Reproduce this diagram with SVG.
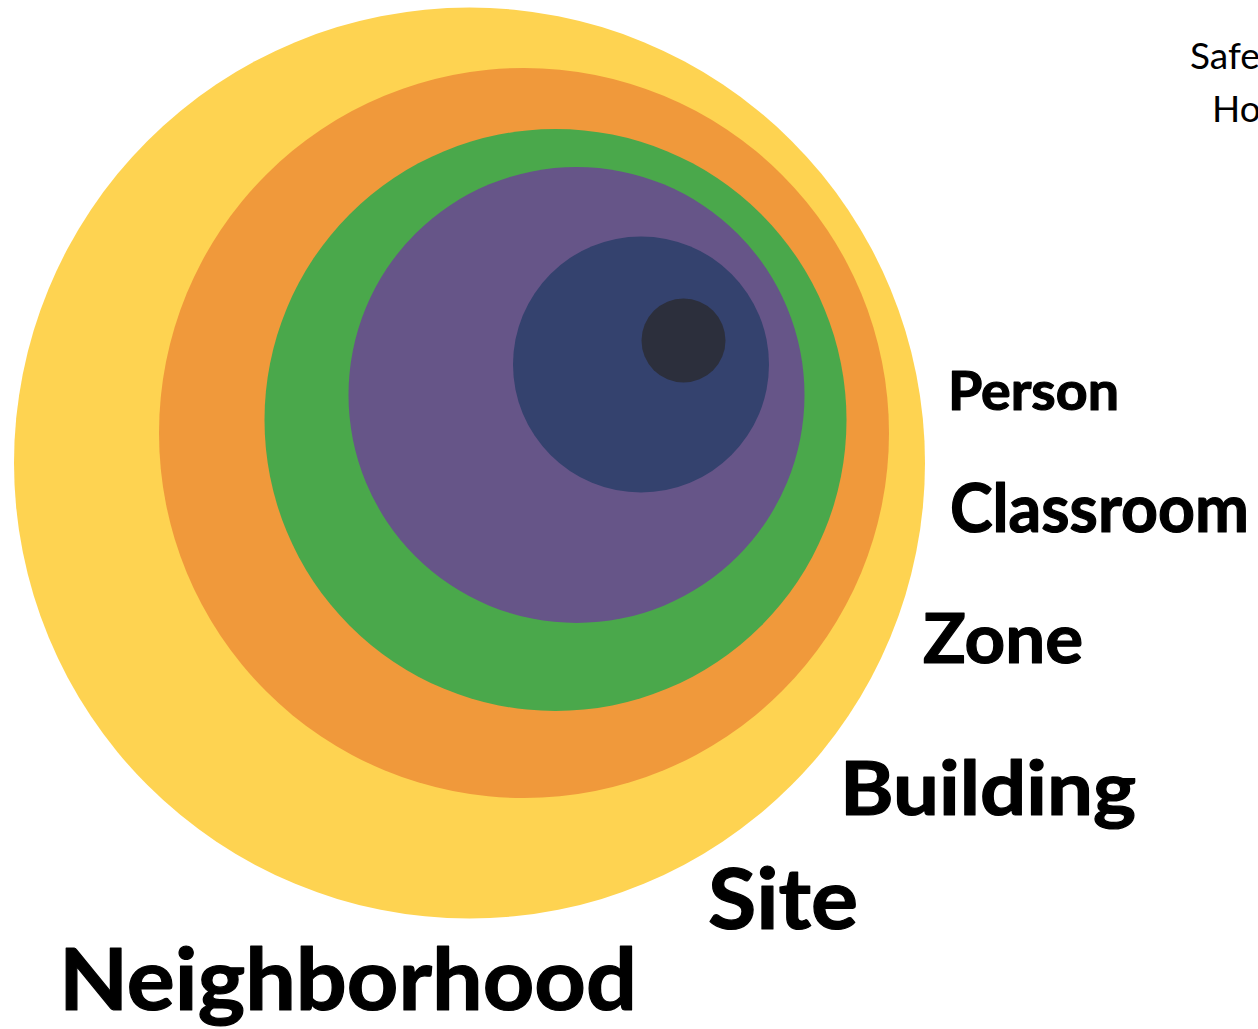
<svg xmlns="http://www.w3.org/2000/svg" width="1258" height="1029" viewBox="0 0 1258 1029">
<style>
.lbl{font-family:Lato,"Open Sans","Liberation Sans",sans-serif;font-weight:700;fill:#000;stroke:#000;stroke-width:1.2px;stroke-linejoin:round}
.note{font-family:Lato,"Open Sans","Liberation Sans",sans-serif;font-weight:400;fill:#000;font-size:37px}
</style>
<rect width="1258" height="1029" fill="#ffffff"/>
<g id="neighborhood-ring"><circle cx="469.5" cy="463" r="455.5" fill="#FED351"/></g>
<g id="site-ring"><circle cx="524" cy="433" r="365" fill="#F0993B"/></g>
<g id="building-ring"><circle cx="555.5" cy="420" r="291" fill="#4AA84B"/></g>
<g id="zone-ring"><circle cx="576.5" cy="395" r="228" fill="#665588"/></g>
<g id="classroom-ring"><circle cx="641" cy="364.5" r="128" fill="#34426E"/></g>
<g id="person-dot"><circle cx="683.5" cy="340.5" r="42" fill="#2C2F3C"/></g>
<g id="labels">
<text class="lbl" x="948" y="410" font-size="53" textLength="171" lengthAdjust="spacingAndGlyphs">Person</text>
<text class="lbl" x="950" y="532" font-size="66" textLength="299" lengthAdjust="spacingAndGlyphs">Classroom</text>
<text class="lbl" x="923" y="663" font-size="68" textLength="160" lengthAdjust="spacingAndGlyphs">Zone</text>
<text class="lbl" x="840" y="815" font-size="74" textLength="296" lengthAdjust="spacingAndGlyphs">Building</text>
<text class="lbl" x="708" y="929" font-size="84" textLength="150" lengthAdjust="spacingAndGlyphs">Site</text>
<text class="lbl" x="59" y="1010" font-size="86" textLength="578" lengthAdjust="spacingAndGlyphs">Neighborhood</text>
</g>
<g id="note">
<text class="note" x="1190" y="69">Safe</text>
<text class="note" x="1212" y="122">Ho</text>
</g>
</svg>
